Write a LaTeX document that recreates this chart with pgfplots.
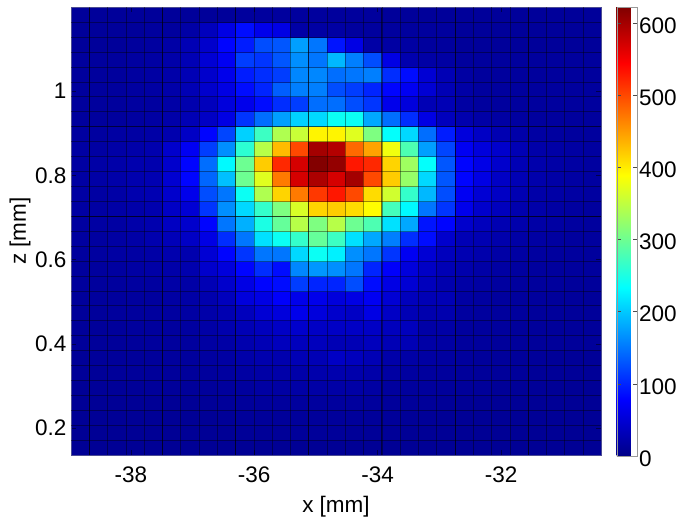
\documentclass[border=0pt]{standalone}
\usepackage{fontspec}
\setmainfont{Liberation Sans}
\usepackage{pgfplots}
\pgfplotsset{compat=1.18}
\pgfplotsset{colormap={matjet}{rgb255(0cm)=(0,0,135);rgb255(1cm)=(0,0,255);rgb255(3cm)=(0,255,255);rgb255(5cm)=(255,255,0);rgb255(7cm)=(255,0,0);rgb255(8cm)=(128,0,0)}}
\begin{document}
\begin{tikzpicture}[x=1pt,y=1pt]
\useasboundingbox (-71,-66) rectangle (614,455);
\begin{axis}[
  at={(0,0)},anchor=south west,
  scale only axis,width=530pt,height=448pt,
  xmin=-38.97,xmax=-30.38,ymin=0.136,ymax=1.2,
  enlargelimits=false,axis on top,
  colormap name=matjet,
  point meta min=0,point meta max=622,
  xtick={-38,-36,-34,-32},xticklabels={-38,-36,-34,-32},
  ytick={0.2,0.4,0.6,0.8,1},yticklabels={0.2,0.4,0.6,0.8,1},
  tick align=inside,major tick length=5pt,
  tick style={black!70!blue,line width=0.3pt},
  axis line style={blue!40!black!70,line width=0.3pt},
  ticklabel style={font=\fontsize{22.5}{26}\selectfont},
  xticklabel style={yshift=-8pt},
  yticklabel style={xshift=-1pt},
  label style={font=\fontsize{22.5}{26}\selectfont},
  xlabel={x [mm]},ylabel={z [mm]},
  xlabel style={at={(axis description cs:0.5,0)},anchor=center,yshift=-52pt},
  ylabel style={at={(axis description cs:0,0.5)},anchor=center,yshift=51pt},
  extra x ticks={-38.6737,-38.3774,-38.0811,-37.7848,-37.4885,-37.1922,-36.8959,-36.5996,-36.3033,-36.0070,-35.7107,-35.4144,-35.1181,-34.8218,-34.5255,-34.2292,-33.9329,-33.6366,-33.3403,-33.0440,-32.7477,-32.4514,-32.1551,-31.8588,-31.5625,-31.2662,-30.9699,-30.6736},
  extra x tick labels={},
  extra x tick style={grid=major,major tick length=0pt,major grid style={black,opacity=0.4,line width=0.4pt}},
  extra y ticks={0.17146,0.20692,0.24238,0.27784,0.3133,0.34876,0.38422,0.41968,0.45514,0.4906,0.52606,0.56152,0.59698,0.63244,0.6679,0.70336,0.73882,0.77428,0.80974,0.8452,0.88066,0.91612,0.95158,0.98704,1.0225,1.05796,1.09342,1.12888,1.16434},
  extra y tick labels={},
  extra y tick style={grid=major,major tick length=0pt,major grid style={black,opacity=0.4,line width=0.4pt}},
  colorbar,
  colorbar style={
    at={(1.0296,-0.0022)},anchor=south west,
    width=20pt,height=449pt,
    ytick={0,100,200,300,400,500,600},
    yticklabels={0,100,200,300,400,500,600},
    major tick length=4pt,
    tick align=inside,
    yticklabel pos=right,
    yticklabel style={font=\fontsize{22.5}{26}\selectfont,xshift=-1pt,yshift=-2.5pt},
    axis line style={black!40,line width=0.3pt},
    tick style={black!70,line width=0.3pt},
  },
]
\addplot[surf,shader=flat corner,mesh/cols=30,mesh/rows=31,mesh/ordering=x varies,
  point meta=explicit]
  table[row sep=\\,header=false,
    x expr={-38.97+0.2963*mod(\coordindex,30)},
    y expr={0.136+0.03546*floor((\coordindex+0.5)/30)},
    meta expr=\thisrowno{0}]{
9\\9\\9\\9\\9\\9\\9\\9\\9\\9\\9\\9\\9\\9\\9\\9\\9\\9\\9\\9\\9\\9\\9\\9\\9\\9\\9\\9\\9\\9\\
9\\9\\9\\9\\9\\9\\10\\10\\10\\11\\11\\11\\12\\12\\12\\11\\11\\11\\10\\10\\10\\9\\9\\9\\9\\9\\9\\9\\9\\9\\
10\\10\\10\\10\\10\\10\\10\\10\\11\\12\\12\\12\\13\\13\\13\\13\\12\\12\\11\\11\\10\\10\\10\\10\\10\\10\\10\\10\\10\\9\\
10\\10\\10\\10\\10\\10\\10\\11\\12\\13\\14\\14\\15\\15\\15\\15\\14\\13\\12\\12\\11\\10\\10\\10\\10\\10\\10\\10\\10\\9\\
10\\11\\11\\11\\12\\12\\12\\13\\14\\15\\18\\18\\20\\20\\20\\20\\18\\15\\14\\14\\13\\12\\12\\11\\11\\11\\10\\10\\10\\9\\
11\\11\\12\\12\\12\\13\\13\\14\\16\\18\\20\\22\\22\\24\\25\\24\\22\\18\\16\\15\\14\\13\\12\\12\\12\\11\\11\\11\\11\\9\\
11\\12\\12\\12\\13\\14\\14\\16\\18\\22\\25\\25\\30\\30\\40\\35\\30\\22\\20\\18\\16\\14\\13\\13\\12\\12\\11\\11\\11\\9\\
12\\12\\12\\13\\14\\14\\15\\18\\20\\25\\30\\35\\35\\35\\30\\30\\35\\30\\30\\20\\18\\14\\14\\13\\13\\12\\12\\12\\12\\9\\
12\\12\\13\\14\\14\\15\\16\\20\\25\\30\\35\\40\\45\\40\\40\\40\\40\\35\\35\\20\\20\\15\\14\\14\\13\\13\\12\\12\\12\\9\\
12\\13\\14\\14\\15\\16\\18\\22\\28\\35\\50\\55\\65\\55\\45\\40\\60\\40\\30\\25\\25\\16\\15\\14\\14\\13\\13\\12\\12\\9\\
13\\14\\14\\15\\15\\18\\20\\25\\35\\55\\60\\75\\65\\65\\55\\60\\70\\50\\35\\30\\30\\18\\16\\15\\14\\14\\13\\13\\12\\9\\
14\\14\\15\\16\\16\\20\\20\\30\\45\\60\\80\\85\\115\\100\\100\\125\\85\\60\\50\\35\\25\\20\\18\\16\\15\\14\\14\\13\\13\\9\\
14\\15\\16\\18\\20\\22\\25\\45\\55\\80\\105\\85\\160\\170\\165\\150\\100\\75\\55\\40\\30\\24\\20\\18\\16\\15\\14\\14\\14\\9\\
15\\16\\18\\18\\20\\25\\25\\50\\80\\110\\150\\150\\210\\240\\225\\165\\150\\110\\70\\50\\35\\28\\24\\20\\18\\16\\15\\15\\14\\9\\
16\\16\\18\\20\\25\\32\\40\\60\\105\\150\\215\\240\\265\\295\\270\\215\\180\\155\\105\\85\\45\\30\\28\\24\\20\\18\\16\\15\\15\\9\\
16\\18\\18\\22\\25\\38\\45\\80\\150\\185\\250\\295\\345\\310\\345\\300\\280\\215\\180\\90\\80\\45\\35\\28\\24\\20\\18\\16\\15\\9\\
18\\18\\20\\22\\25\\40\\50\\110\\165\\210\\265\\310\\365\\415\\420\\410\\390\\275\\230\\150\\110\\65\\45\\35\\25\\22\\18\\16\\15\\9\\
18\\18\\20\\25\\28\\45\\65\\125\\150\\240\\340\\415\\470\\510\\530\\500\\410\\360\\265\\190\\125\\70\\50\\40\\28\\22\\20\\18\\16\\9\\
18\\20\\22\\25\\28\\48\\80\\140\\195\\300\\370\\470\\570\\595\\570\\600\\500\\420\\325\\210\\130\\80\\60\\40\\30\\24\\20\\18\\16\\9\\
18\\20\\22\\25\\25\\45\\80\\145\\230\\300\\420\\520\\570\\620\\610\\530\\520\\415\\330\\235\\130\\80\\62\\45\\30\\24\\20\\18\\16\\9\\
18\\18\\20\\22\\25\\45\\70\\115\\165\\260\\345\\430\\500\\600\\590\\480\\445\\380\\280\\175\\120\\70\\55\\45\\30\\22\\20\\18\\16\\9\\
16\\16\\18\\18\\20\\25\\40\\80\\120\\205\\270\\340\\355\\395\\395\\370\\310\\235\\210\\145\\95\\55\\40\\28\\22\\18\\16\\15\\15\\9\\
14\\14\\14\\16\\18\\22\\30\\40\\60\\110\\145\\175\\205\\210\\240\\240\\180\\145\\105\\60\\35\\25\\20\\18\\16\\15\\15\\14\\14\\9\\
14\\14\\14\\16\\16\\20\\25\\35\\55\\65\\85\\105\\115\\145\\145\\125\\110\\65\\55\\30\\30\\18\\15\\15\\15\\15\\15\\15\\15\\9\\
14\\14\\14\\16\\18\\22\\30\\45\\60\\85\\100\\135\\155\\155\\125\\115\\100\\80\\70\\50\\30\\20\\15\\15\\15\\15\\15\\15\\15\\9\\
14\\14\\14\\16\\18\\22\\30\\45\\65\\95\\105\\115\\160\\160\\145\\150\\155\\105\\85\\50\\30\\18\\14\\14\\14\\14\\14\\14\\14\\9\\
14\\14\\14\\16\\18\\22\\30\\50\\70\\115\\110\\130\\165\\150\\190\\155\\125\\60\\25\\20\\18\\14\\14\\14\\14\\14\\14\\14\\14\\9\\
12\\12\\12\\14\\16\\20\\30\\45\\80\\95\\125\\130\\175\\150\\90\\60\\20\\18\\18\\15\\15\\12\\12\\12\\12\\12\\12\\12\\12\\9\\
12\\12\\12\\12\\15\\15\\20\\35\\60\\85\\65\\60\\20\\18\\18\\15\\15\\15\\15\\15\\15\\12\\12\\12\\12\\12\\12\\12\\12\\9\\
12\\12\\12\\12\\12\\12\\12\\12\\12\\14\\15\\15\\15\\15\\14\\14\\14\\12\\12\\12\\12\\12\\12\\12\\12\\12\\12\\12\\12\\9\\
9\\9\\9\\9\\9\\9\\9\\9\\9\\9\\9\\9\\9\\9\\9\\9\\9\\9\\9\\9\\9\\9\\9\\9\\9\\9\\9\\9\\9\\9\\
};
% darker lines that run over the image
\addplot[black,line width=0.6pt,opacity=0.55,forget plot] coordinates {(-38.6737,0.136) (-38.6737,1.2)};
\addplot[black,line width=0.6pt,opacity=0.55,forget plot] coordinates {(-37.4885,0.136) (-37.4885,1.2)};
\addplot[black,line width=0.6pt,opacity=0.55,forget plot] coordinates {(-36.3033,0.136) (-36.3033,1.2)};
\addplot[black,line width=0.6pt,opacity=0.55,forget plot] coordinates {(-35.1181,0.136) (-35.1181,1.2)};
\addplot[black,line width=0.6pt,opacity=0.55,forget plot] coordinates {(-33.9329,0.136) (-33.9329,1.2)};
\addplot[black,line width=0.6pt,opacity=0.55,forget plot] coordinates {(-32.7477,0.136) (-32.7477,1.2)};
\addplot[black,line width=0.6pt,opacity=0.55,forget plot] coordinates {(-31.5625,0.136) (-31.5625,1.2)};
\addplot[black,line width=0.6pt,opacity=0.55,forget plot] coordinates {(-38.97,0.70336) (-30.38,0.70336)};
\addplot[black,line width=0.5pt,opacity=0.35,forget plot] coordinates {(-38.97,0.91612) (-30.38,0.91612)};
\end{axis}
\end{tikzpicture}
\end{document}
